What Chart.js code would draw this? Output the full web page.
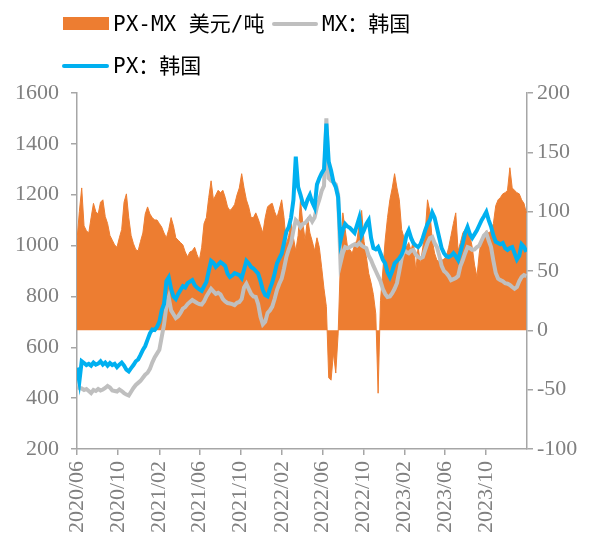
<!DOCTYPE html>
<html>
<head>
<meta charset="utf-8">
<script src="https://cdn.jsdelivr.net/npm/chart.js@4/dist/chart.umd.min.js"></script>
<style>
  body{margin:0;background:#fff;}
  #wrap{position:relative;width:593px;height:542px;}
  #chart{position:absolute;left:0;top:0;}
  .lg{position:absolute;font-family:"DejaVu Sans Mono","Noto Sans CJK SC",monospace;font-size:21px;color:#000;line-height:24px;white-space:nowrap;}
  .sw{position:absolute;}
</style>
</head>
<body>
<div id="wrap">
  <canvas id="chart" width="593" height="542"></canvas>
  <div class="sw" style="left:63px;top:17px;width:46px;height:13px;background:#ED7D31"></div>
  <div class="lg" style="left:113px;top:12px">PX-MX 美元/吨</div>
  <div class="sw" style="left:272px;top:22px;width:46px;height:4px;background:#BFBFBF;border-radius:2px"></div>
  <div class="lg" style="left:322px;top:12px">MX：韩国</div>
  <div class="sw" style="left:62px;top:64px;width:47px;height:4px;background:#00B0F0;border-radius:2px"></div>
  <div class="lg" style="left:113px;top:54px">PX：韩国</div>
</div>
<script>
// weekly readings starting 2020/06/01
const startDate=Date.UTC(2020,5,1);
const weekStep=7;

// PX-MX spread, USD/t (right axis)
const spread=[
 76,100,120,88,84,82,95,107,100,98,108,110,96,90,80,76,72,70,78,85,
 108,115,95,80,73,68,67,75,82,98,104,98,95,93,93,90,87,82,78,85,
 95,88,78,76,74,72,66,62,66,67,70,64,59,70,90,95,112,126,110,114,
 118,116,118,112,104,101,103,106,114,120,132,120,110,104,95,95,99,94,88,82,
 95,104,106,107,100,95,102,110,95,72,80,90,78,67,80,110,90,76,95,82,
 75,67,78,70,53,35,20,-40,-42,-19,-36,-3,60,99,85,70,68,65,72,76,
 90,101,75,62,48,40,30,14,-53,25,50,76,95,110,120,132,120,110,85,78,
 70,74,67,76,50,70,56,70,82,110,100,76,65,59,58,59,60,62,70,80,
 90,99,67,74,82,85,87,80,70,55,45,65,78,80,84,82,84,90,105,110,
 112,115,116,118,137,120,118,116,115,110,107,99
];
// MX Korea, USD/t (left axis)
const mx=[
 444,440,438,432,436,428,420,432,428,436,430,434,440,448,442,430,428,426,434,428,
 420,414,410,425,440,452,460,468,480,492,500,515,540,560,575,590,640,690,760,795,
 745,730,715,722,735,752,758,770,778,786,780,774,770,768,780,800,815,830,820,810,
 814,808,790,780,774,772,770,766,775,778,790,835,850,830,810,800,798,770,720,690,
 700,735,745,760,790,825,850,870,910,955,985,1010,1060,1100,1090,1073,1085,1089,1100,1112,
 1095,1110,1152,1180,1215,1235,1500,1265,1255,1250,1240,1200,931,970,994,990,994,1000,1005,1000,
 1010,1000,994,990,960,943,920,900,880,860,830,810,798,800,813,830,852,900,950,983,
 975,970,980,983,965,955,950,955,983,1010,1030,1034,1010,994,960,920,900,892,880,864,
 868,872,880,920,943,970,994,990,983,985,994,1000,1020,1040,1049,1020,994,940,892,870,
 864,860,852,850,845,837,830,837,860,876,884,880
];
// PX Korea, USD/t (left axis)
const px=[
 520,465,545,538,530,535,528,540,532,536,545,532,540,528,538,530,535,522,532,540,
 528,512,505,518,530,545,552,570,590,605,630,655,670,668,680,700,745,770,860,875,
 830,800,790,810,825,840,835,852,858,864,845,835,828,822,840,857,900,940,932,916,
 925,935,928,920,890,876,882,892,888,884,872,905,940,930,916,910,900,890,860,825,
 805,800,830,855,890,930,950,968,1010,1055,1072,1110,1180,1350,1230,1200,1165,1152,1180,1199,
 1170,1150,1240,1265,1285,1300,1480,1330,1295,1250,1230,1190,1020,1060,1085,1075,1070,1060,1050,1080,
 1110,1040,1060,1085,1100,1030,990,985,994,970,945,930,895,876,900,930,940,950,965,990,
 1040,1060,1030,1010,1000,994,1005,1030,1060,1085,1100,1130,1110,1070,1030,990,970,958,955,960,
 970,958,943,975,1010,1050,1073,1045,1030,1045,1060,1080,1100,1115,1132,1100,1075,1040,1015,1010,
 1005,1010,990,983,990,994,970,945,960,1005,995,975
];
const tickLabels=['2020/06','2020/10','2021/02','2021/06','2021/10','2022/02','2022/06','2022/10','2023/02','2023/06','2023/10'];

const tickDays=tickLabels.map(t=>{
  const p=t.split('/');
  return (Date.UTC(+p[0],+p[1]-1,1)-startDate)/86400000;
});
const endDay=(Date.UTC(2024,0,31)-startDate)/86400000;
const toPts=arr=>arr.map((v,i)=>({x:i*weekStep,y:v}));

const axisColor='#A6A6A6';
const tickFont={family:'"Liberation Serif","Times New Roman",serif',size:22};

const ctx=document.getElementById('chart').getContext('2d');
const chart=new Chart(ctx,{
  type:'line',
  data:{
    datasets:[
      {
        label:'PX-MX 美元/吨',
        data:toPts(spread),
        yAxisID:'y1',
        backgroundColor:'#ED7D31',
        borderColor:'#ED7D31',
        borderWidth:1,
        fill:'origin',
        pointRadius:0,
        tension:0,
        order:3
      },
      {
        label:'MX：韩国',
        data:toPts(mx),
        yAxisID:'y',
        borderColor:'#BFBFBF',
        borderWidth:4,
        fill:false,
        pointRadius:0,
        tension:0,
        order:2
      },
      {
        label:'PX：韩国',
        data:toPts(px),
        yAxisID:'y',
        borderColor:'#00B0F0',
        borderWidth:4,
        fill:false,
        pointRadius:0,
        tension:0,
        order:1
      }
    ]
  },
  options:{
    responsive:false,
    animation:false,
    layout:{padding:{top:93,left:0,right:0,bottom:0}},
    plugins:{legend:{display:false},tooltip:{enabled:false}},
    scales:{
      x:{
        type:'linear',
        min:0,
        max:endDay,
        afterBuildTicks:s=>{s.ticks=tickDays.map(v=>({value:v}));},
        afterFit:s=>{s.height=93;},
        grid:{drawOnChartArea:false,color:axisColor,tickLength:6,lineWidth:1.5},
        border:{color:axisColor,width:1.5},
        ticks:{
          autoSkip:false,
          minRotation:90,
          maxRotation:90,
          padding:6,
          color:'#808080',
          font:tickFont,
          callback:v=>{const i=tickDays.indexOf(v);return i<0?null:tickLabels[i];}
        }
      },
      y:{
        position:'left',
        min:200,
        max:1600,
        afterFit:s=>{s.width=77;},
        grid:{drawOnChartArea:false,color:axisColor,tickLength:6,lineWidth:1.5},
        border:{color:axisColor,width:1.5},
        ticks:{stepSize:200,color:'#808080',font:tickFont,padding:12,callback:v=>String(v)}
      },
      y1:{
        position:'right',
        min:-100,
        max:200,
        afterFit:s=>{s.width=66;},
        grid:{drawOnChartArea:false,color:axisColor,tickLength:6,lineWidth:1.5},
        border:{color:axisColor,width:1.5},
        ticks:{stepSize:50,color:'#808080',font:tickFont,padding:4,callback:v=>String(v)}
      }
    }
  }
});
</script>
</body>
</html>
